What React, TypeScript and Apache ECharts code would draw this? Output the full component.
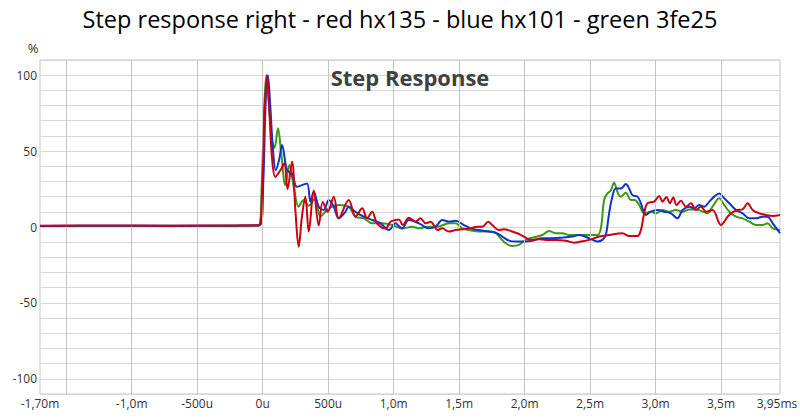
import React, { useEffect, useRef } from "react";
import * as echarts from "echarts";

const titleText = "Step response right - red hx135 - blue hx101 - green 3fe25";
const innerTitle = "Step Response";
const yUnit = "%";

const xMin = -1.7;
const xMax = 3.95;
const yMin = -110;
const yMax = 110;

const xGridValues = [-1.5, -1.0, -0.5, 0, 0.5, 1.0, 1.5, 2.0, 2.5, 3.0, 3.5];
const xTickValues = [-1.7, -1.0, -0.5, 0, 0.5, 1.0, 1.5, 2.0, 2.5, 3.0, 3.5, 3.95];
const xTickLabels = ["-1,70m", "-1,0m", "-500u", "0u", "500u", "1,0m", "1,5m", "2,0m", "2,5m", "3,0m", "3,5m", "3,95ms"];
const yTickValues = [-100, -50, 0, 50, 100];

// [time ms, percent]
const red: [number, number][] = [
  [-1.7, 0.8], [-1.2, 1.0], [-0.7, 0.9], [-0.2, 1.0], [-0.031, 1.2], [-0.005, 22], [0.015, 77], [0.033, 100],
  [0.051, 77], [0.071, 46], [0.097, 33], [0.14, 38], [0.165, 42], [0.19, 25], [0.224, 43], [0.25, 11],
  [0.275, -13], [0.3, 7], [0.326, 20], [0.352, -3], [0.39, 24], [0.428, 1], [0.459, 16.5], [0.497, 10],
  [0.543, 20], [0.581, 5.7], [0.657, 17.8], [0.709, 6.8], [0.76, 12.3], [0.797, 5.7], [0.836, 10], [0.874, 2.4],
  [0.938, -1], [0.976, 3.5], [1.015, 4.6], [1.04, 5], [1.07, 1.3], [1.116, 6.1], [1.167, 3.5], [1.205, 5.7],
  [1.244, 2.4], [1.282, 3.5], [1.307, 1.3], [1.333, -2], [1.371, -0.9], [1.422, -3], [1.473, -2], [1.524, -1.5],
  [1.588, -0.9], [1.638, 0.2], [1.677, 0.2], [1.722, 3.5], [1.753, 1.3], [1.804, -2], [1.842, -1.5], [1.894, -2.6],
  [1.944, -4.1], [1.995, -6.3], [2.047, -8.5], [2.11, -8.1], [2.161, -8.5], [2.238, -8.5], [2.314, -9], [2.378, -10.3],
  [2.429, -9.6], [2.492, -8.5], [2.569, -6.3], [2.645, -5.3], [2.747, -4.1], [2.798, -5.9], [2.862, -5.9], [2.888, -2],
  [2.913, 9], [2.938, 15.6], [2.989, 16.7], [3.028, 20.4], [3.053, 16.7], [3.083, 19.7], [3.109, 15.6], [3.135, 19.5],
  [3.16, 14.5], [3.193, 17.3], [3.232, 13.4], [3.27, 15.6], [3.308, 11.2], [3.346, 13.4], [3.385, 10.1], [3.435, 11.2],
  [3.499, 1.3], [3.55, 6.8], [3.575, 9], [3.626, 11.2], [3.664, 11.6], [3.703, 15.6], [3.741, 11.2], [3.792, 9],
  [3.843, 7.9], [3.894, 7.2], [3.95, 7.9],
];

const blue: [number, number][] = [
  [-1.7, 0.7], [-1.2, 0.8], [-0.7, 0.8], [-0.2, 0.9], [-0.02, 1.2], [0.005, 30], [0.022, 80], [0.04, 100],
  [0.058, 80], [0.078, 52], [0.1, 37.5], [0.125, 44], [0.148, 54], [0.186, 37.5], [0.224, 35], [0.262, 26.5],
  [0.3, 27.6], [0.339, 28.7], [0.365, 16.6], [0.39, 23.2], [0.428, 13.4], [0.466, 11.2], [0.505, 17.8], [0.543, 13.4],
  [0.581, 5.7], [0.632, 10], [0.657, 13.4], [0.709, 10], [0.772, 6.8], [0.836, 4.6], [0.9, 2.4], [0.963, -2],
  [1.015, 2.4], [1.04, 0.7], [1.065, -0.9], [1.116, 4.6], [1.193, 2.4], [1.269, -0.9], [1.32, 0.2], [1.371, 4.6],
  [1.422, 3.5], [1.473, 4.1], [1.537, 1.3], [1.588, -0.9], [1.651, -2], [1.728, -3], [1.779, -3.7], [1.83, -6.3],
  [1.881, -9], [1.932, -9.6], [2.008, -9.6], [2.059, -9], [2.135, -7.4], [2.212, -7.4], [2.288, -7], [2.365, -6.3],
  [2.416, -5.3], [2.492, -7.4], [2.556, -9.6], [2.594, -8.5], [2.62, -5.3], [2.645, 9], [2.67, 20], [2.696, 25.4],
  [2.735, 25.4], [2.773, 28.3], [2.798, 25.4], [2.823, 21], [2.862, 20], [2.888, 15.6], [2.926, 7.9], [2.964, 10.1],
  [3.014, 11.2], [3.066, 10.1], [3.117, 9], [3.167, 5.7], [3.206, 11.2], [3.257, 13.4], [3.295, 12.3], [3.333, 14.5],
  [3.372, 13.4], [3.41, 16.7], [3.448, 20], [3.486, 22.1], [3.524, 18.9], [3.563, 15.6], [3.614, 11.2], [3.664, 9],
  [3.716, 5.7], [3.767, 5.7], [3.817, 6.8], [3.855, 6.8], [3.894, 2.4], [3.95, -4.1],
];

const green: [number, number][] = [
  [-1.7, 0.6], [-1.2, 0.7], [-0.7, 0.7], [-0.2, 0.8], [-0.03, 1], [-0.008, 25], [0.01, 75], [0.028, 100],
  [0.048, 80], [0.07, 58], [0.09, 52], [0.117, 65], [0.14, 50], [0.174, 27.6], [0.204, 40.8], [0.24, 25],
  [0.275, 13.4], [0.313, 17.8], [0.35, 14], [0.403, 19], [0.441, 6.8], [0.505, 12.3], [0.581, 14.5], [0.657, 13.4],
  [0.709, 6.8], [0.772, 5.7], [0.836, 2.4], [0.913, 2.4], [0.989, 1.3], [1.065, -1], [1.141, 0.2], [1.193, -0.9],
  [1.269, 0.2], [1.333, 0.2], [1.422, 2.4], [1.473, 2.4], [1.524, -0.9], [1.575, -2], [1.651, -3], [1.728, -3],
  [1.779, -4.1], [1.817, -7.4], [1.856, -10.7], [1.906, -12.5], [1.957, -11.8], [2.008, -8.5], [2.059, -7], [2.135, -5.3],
  [2.187, -2.6], [2.238, -4.1], [2.288, -4.1], [2.339, -5.3], [2.416, -5.3], [2.492, -5.3], [2.556, -5.3], [2.582, -1.1],
  [2.607, 17.8], [2.632, 22.1], [2.658, 24], [2.683, 29.2], [2.709, 23.2], [2.735, 20], [2.773, 22.6], [2.811, 17.8],
  [2.84, 17.8], [2.875, 14.5], [2.913, 9], [2.964, 10.1], [3.002, 9], [3.053, 11.2], [3.104, 10.1], [3.155, 11.2],
  [3.206, 10.1], [3.257, 11.6], [3.308, 11.6], [3.359, 10.1], [3.397, 9], [3.435, 13.4], [3.486, 18.9], [3.524, 14.5],
  [3.563, 10.1], [3.614, 6.8], [3.664, 5.7], [3.716, 3.5], [3.767, 1.3], [3.817, 1.3], [3.855, 2.4], [3.894, -0.9],
  [3.95, -2],
];

const FONT = "'Open Sans', 'Noto Sans', sans-serif";

function xLabel(v: number): string {
  for (let i = 0; i < xTickValues.length; i++) {
    if (Math.abs(xTickValues[i] - v) < 1e-6) {
      if (i === xTickValues.length - 1) return "{last|" + xTickLabels[i] + "}";
      return xTickLabels[i];
    }
  }
  return "";
}

export default function App() {
  const ref = useRef<HTMLDivElement>(null);
  useEffect(() => {
    if (!ref.current) return;
    const chart = echarts.init(ref.current, null, { renderer: "svg" });
    const lineSeries = (name: string, data: [number, number][], color: string, z: number) => ({
      name,
      type: "line",
      data,
      smooth: 0.35,
      showSymbol: false,
      symbol: "none",
      z,
      lineStyle: { color, width: 2 },
      emphasis: { disabled: true },
    });
    const labelStyle = { color: "#333333", fontSize: 12, fontFamily: FONT };
    chart.setOption({
      animation: false,
      backgroundColor: "#ffffff",
      grid: {
        left: 40,
        right: 20,
        top: 60,
        bottom: 24,
        show: true,
        borderColor: "#c4c4c4",
        borderWidth: 1,
        outerBoundsMode: "none",
        containLabel: false,
      },
      xAxis: {
        type: "value",
        min: xMin,
        max: xMax,
        axisLine: { show: false },
        axisTick: { show: false },
        splitLine: { show: false },
        axisLabel: {
          customValues: xTickValues,
          formatter: (v: number) => xLabel(v),
          ...labelStyle,
          margin: 3,
          showMinLabel: true,
          showMaxLabel: true,
          hideOverlap: false,
          rich: {
            last: { ...labelStyle, padding: [0, 6, 0, 0] },
          },
        },
      },
      yAxis: {
        type: "value",
        min: yMin,
        max: yMax,
        interval: 10,
        axisLine: { show: false },
        axisTick: { show: false },
        splitLine: { show: true, lineStyle: { color: "#d6d6d6", width: 1 } },
        axisLabel: {
          customValues: yTickValues,
          formatter: (v: number) => String(v),
          ...labelStyle,
          margin: 3,
        },
      },
      graphic: [
        {
          type: "text",
          left: "center",
          top: 7,
          style: { text: titleText, fontSize: 23.5, fontFamily: FONT, fill: "#000000" },
        },
        {
          type: "text",
          x: 410,
          y: 77,
          style: {
            text: innerTitle,
            fontSize: 22,
            fontWeight: "bold",
            fontFamily: FONT,
            fill: "#404040",
            align: "center",
            verticalAlign: "middle",
          },
          z: 100,
        },
        {
          type: "text",
          x: 33,
          y: 48,
          style: { text: yUnit, fontSize: 13, fontFamily: FONT, fill: "#333333", align: "center", verticalAlign: "middle" },
        },
      ],
      series: [
        {
          type: "line",
          data: [[xMin, 0], [xMax, 0]],
          symbol: "none",
          lineStyle: { opacity: 0 },
          z: 1,
          silent: true,
          markLine: {
            silent: true,
            symbol: "none",
            label: { show: false },
            lineStyle: { color: "#c4c4c4", width: 1, type: "solid" },
            emphasis: { disabled: true },
            data: xGridValues.map((v) => ({ xAxis: v })),
          },
        },
        lineSeries("green", green, "#3a9a14", 3),
        lineSeries("blue", blue, "#1035c8", 4),
        lineSeries("red", red, "#cc0010", 5),
      ],
    });
    return () => chart.dispose();
  }, []);
  return <div ref={ref} style={{ position: "fixed", left: 0, top: 0, width: 800, height: 418 }} />;
}
